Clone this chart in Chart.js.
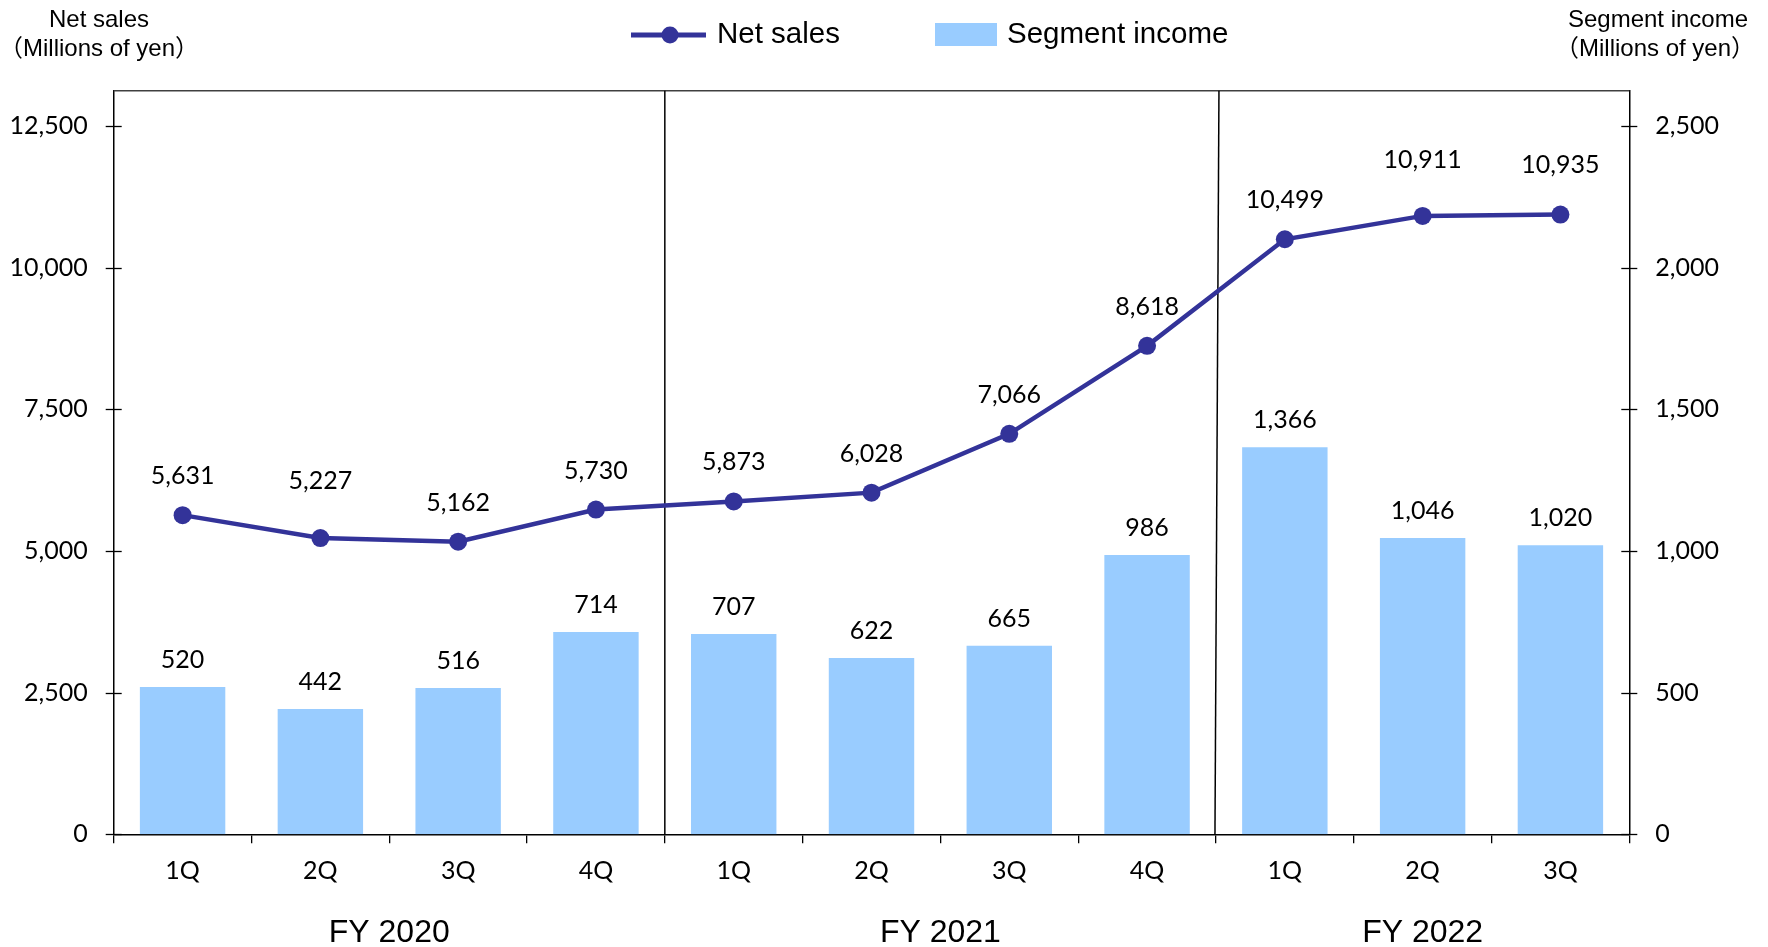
<!DOCTYPE html>
<html>
<head>
<meta charset="utf-8">
<script src="https://cdn.jsdelivr.net/npm/chart.js@4"></script>
<style>
  html, body { margin: 0; padding: 0; background: #fff; }
  #wrap { width: 1768px; height: 947px; }
</style>
</head>
<body>
<div id="wrap"><canvas id="salesChart" width="1768" height="947"></canvas></div>
<script>
const quarters = ['1Q', '2Q', '3Q', '4Q', '1Q', '2Q', '3Q', '4Q', '1Q', '2Q', '3Q'];
const fiscalYears = ['FY 2020', 'FY 2021', 'FY 2022'];
const quartersPerYear = [4, 4, 3];
const netSales = [5631, 5227, 5162, 5730, 5873, 6028, 7066, 8618, 10499, 10911, 10935];
const segmentIncome = [520, 442, 516, 714, 707, 622, 665, 986, 1366, 1046, 1020];
const salesTicks = [0, 2500, 5000, 7500, 10000, 12500];
const incomeTicks = [0, 500, 1000, 1500, 2000, 2500];

const LINE_COLOR = '#333399';
const BAR_COLOR = '#99CCFF';
const TEXT_COLOR = '#000';
const NUM_FONT = 'Lato, "Open Sans", sans-serif';
const SANS_FONT = '"Liberation Sans", Arial, "Noto Sans CJK JP", sans-serif';

const fmt = v => Number(v).toLocaleString('en-US');

// a few sales labels sit higher than the rest so they clear the line
const salesLabelLift = { 1: 18, 9: 17, 10: 11 };

// plot frame: top edge plus the fiscal-year separators
const framePlugin = {
    id: 'frame',
    beforeDatasetsDraw(chart) {
        const { ctx, chartArea: a, scales: { x } } = chart;
        ctx.save();
        ctx.strokeStyle = '#404040';
        ctx.lineWidth = 1.5;
        ctx.beginPath();
        ctx.moveTo(a.left, a.top);
        ctx.lineTo(a.right, a.top);
        ctx.stroke();

        ctx.strokeStyle = '#000';
        let idx = 0;
        quartersPerYear.slice(0, -1).forEach((n, i) => {
            idx += n;
            const bx = (x.getPixelForValue(idx - 1) + x.getPixelForValue(idx)) / 2;
            // the second separator leans slightly
            const shift = i === 1 ? -1 : 0;
            const lean = i === 1 ? 4 : 0;
            ctx.beginPath();
            ctx.moveTo(bx + shift + lean, a.top);
            ctx.lineTo(bx + shift, a.bottom);
            ctx.stroke();
        });
        ctx.restore();
    }
};

// y ticks that cross the axis line on both sides
const crossTicksPlugin = {
    id: 'crossTicks',
    afterDraw(chart) {
        const { ctx, scales } = chart;
        ctx.save();
        ctx.strokeStyle = '#000';
        ctx.lineWidth = 1.3;
        [['ySales', salesTicks, 'left'], ['yIncome', incomeTicks, 'right']].forEach(([id, vals, side]) => {
            const s = scales[id];
            const ax = side === 'left' ? s.right : s.left;
            vals.forEach(v => {
                const py = Math.round(s.getPixelForValue(v)) + 0.5;
                ctx.beginPath();
                ctx.moveTo(ax - 8, py);
                ctx.lineTo(ax + 8, py);
                ctx.stroke();
            });
        });
        ctx.restore();
    }
};

const valueLabelsPlugin = {
    id: 'valueLabels',
    afterDatasetsDraw(chart) {
        const { ctx } = chart;
        ctx.save();
        ctx.fillStyle = TEXT_COLOR;
        ctx.font = '25px ' + NUM_FONT;
        ctx.textAlign = 'center';
        ctx.textBaseline = 'middle';
        chart.data.datasets.forEach((ds, di) => {
            const meta = chart.getDatasetMeta(di);
            const isLine = ds.type === 'line';
            meta.data.forEach((el, i) => {
                const offset = isLine ? 39 + (salesLabelLift[i] || 0) : 27;
                ctx.fillText(fmt(ds.data[i]), el.x, el.y - offset);
            });
        });
        ctx.restore();
    }
};

// axis titles, legend and fiscal-year captions
const captionsPlugin = {
    id: 'captions',
    afterDraw(chart) {
        const { ctx, scales: { x } } = chart;
        ctx.save();
        ctx.fillStyle = TEXT_COLOR;
        ctx.textBaseline = 'middle';
        ctx.textAlign = 'center';

        ctx.font = '24px ' + SANS_FONT;
        ctx.fillText('Net sales', 99, 20);
        ctx.fillText('（Millions of yen）', 99, 49);
        ctx.fillText('Segment income', 1658, 20);
        ctx.fillText('（Millions of yen）', 1655, 49);

        // legend
        const ly = 35;
        ctx.strokeStyle = LINE_COLOR;
        ctx.lineWidth = 5;
        ctx.beginPath();
        ctx.moveTo(631, ly);
        ctx.lineTo(706, ly);
        ctx.stroke();
        ctx.fillStyle = LINE_COLOR;
        ctx.beginPath();
        ctx.arc(670, ly, 8.5, 0, Math.PI * 2);
        ctx.fill();
        ctx.fillStyle = BAR_COLOR;
        ctx.fillRect(935, ly - 12, 62, 23);

        ctx.fillStyle = TEXT_COLOR;
        ctx.textAlign = 'left';
        ctx.font = '29.5px ' + SANS_FONT;
        ctx.fillText(chart.data.datasets[0].label, 717, ly);
        ctx.fillText(chart.data.datasets[1].label, 1007, ly);

        // fiscal year captions under the quarter labels
        ctx.textAlign = 'center';
        ctx.font = '32px ' + SANS_FONT;
        let start = 0;
        fiscalYears.forEach((fy, i) => {
            const end = start + quartersPerYear[i] - 1;
            const cx = (x.getPixelForValue(start) + x.getPixelForValue(end)) / 2;
            ctx.fillText(fy, cx, 933);
            start = end + 1;
        });
        ctx.restore();
    }
};

new Chart(document.getElementById('salesChart'), {
    data: {
        labels: quarters,
        datasets: [
            {
                type: 'line',
                label: 'Net sales',
                data: netSales,
                yAxisID: 'ySales',
                borderColor: LINE_COLOR,
                backgroundColor: LINE_COLOR,
                borderWidth: 4.5,
                pointRadius: 9,
                pointBorderWidth: 0,
                pointBackgroundColor: LINE_COLOR,
                tension: 0,
                order: 0
            },
            {
                type: 'bar',
                label: 'Segment income',
                data: segmentIncome,
                yAxisID: 'yIncome',
                backgroundColor: BAR_COLOR,
                barPercentage: 0.62,
                categoryPercentage: 1,
                order: 1
            }
        ]
    },
    options: {
        responsive: false,
        devicePixelRatio: 1,
        animation: false,
        events: [],
        layout: { padding: { top: 90.7, left: 0, right: 0, bottom: 0 } },
        plugins: {
            legend: { display: false },
            tooltip: { enabled: false }
        },
        scales: {
            x: {
                offset: true,
                grid: {
                    display: true,
                    drawOnChartArea: false,
                    offset: true,
                    tickLength: 9,
                    color: '#000',
                    lineWidth: 1.3
                },
                border: { color: '#000', width: 1.5 },
                ticks: {
                    color: TEXT_COLOR,
                    font: { family: NUM_FONT, size: 25 },
                    padding: 13,
                    maxRotation: 0,
                    autoSkip: false
                },
                afterFit: s => { s.height = 947 - 834.3; }
            },
            ySales: {
                position: 'left',
                min: 0,
                max: 13120,
                afterBuildTicks: s => { s.ticks = salesTicks.map(v => ({ value: v })); },
                grid: { display: false },
                border: { color: '#000', width: 1.5 },
                ticks: {
                    color: TEXT_COLOR,
                    font: { family: NUM_FONT, size: 25 },
                    padding: 18,
                    callback: v => fmt(v)
                },
                afterFit: s => { s.width = 113.7; }
            },
            yIncome: {
                position: 'right',
                min: 0,
                max: 2624,
                afterBuildTicks: s => { s.ticks = incomeTicks.map(v => ({ value: v })); },
                grid: { display: false },
                border: { color: '#000', width: 1.5 },
                ticks: {
                    color: TEXT_COLOR,
                    font: { family: NUM_FONT, size: 25 },
                    padding: 18,
                    callback: v => fmt(v)
                },
                afterFit: s => { s.width = 1768 - 1629.3; }
            }
        }
    },
    plugins: [framePlugin, crossTicksPlugin, valueLabelsPlugin, captionsPlugin]
});
</script>
</body>
</html>
